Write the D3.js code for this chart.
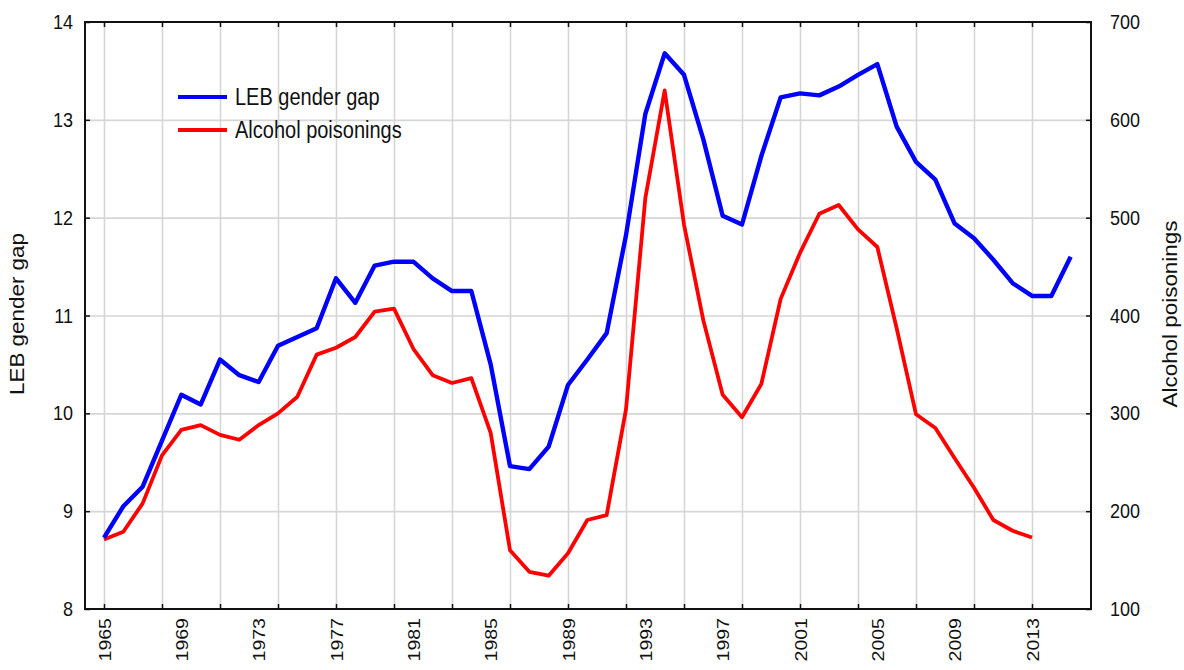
<!DOCTYPE html>
<html>
<head>
<meta charset="utf-8">
<script src="https://cdn.jsdelivr.net/npm/d3@7"></script>
<style>
  body { margin: 0; background: #fff; }
  text { font-family: "Liberation Sans", Arial, sans-serif; fill: #111; }
</style>
</head>
<body>
<div id="chart"></div>
<script>
// data
var years = [1965, 1966, 1967, 1968, 1969, 1970, 1971, 1972, 1973, 1974,
             1975, 1976, 1977, 1978, 1979, 1980, 1981, 1982, 1983, 1984,
             1985, 1986, 1987, 1988, 1989, 1990, 1991, 1992, 1993, 1994,
             1995, 1996, 1997, 1998, 1999, 2000, 2001, 2002, 2003, 2004,
             2005, 2006, 2007, 2008, 2009, 2010, 2011, 2012, 2013, 2014, 2015];

var lebGap = [8.73, 9.05, 9.25, 9.72, 10.19, 10.09, 10.55, 10.39, 10.32, 10.69,
              10.78, 10.87, 11.38, 11.13, 11.51, 11.55, 11.55, 11.38, 11.25, 11.25,
              10.5, 9.46, 9.43, 9.66, 10.29, 10.55, 10.82, 11.82, 13.06, 13.68,
              13.46, 12.8, 12.02, 11.93, 12.63, 13.23, 13.27, 13.25, 13.34, 13.46,
              13.57, 12.93, 12.57, 12.39, 11.94, 11.79, 11.57, 11.33, 11.2, 11.2, 11.6];

// ends in 2013
var alcohol = [171, 179, 208, 257, 283, 288, 278, 273, 288, 300,
               317, 360, 367, 378, 404, 407, 366, 339, 331, 336,
               280, 160, 138, 134, 157, 191, 196, 304, 520, 630,
               493, 395, 319, 296, 330, 417, 464, 504, 513, 488,
               470, 387, 299, 285, 254, 224, 191, 180, 173];

var gridYears = [1965, 1968, 1971, 1974, 1977, 1980, 1983, 1986, 1989,
                 1992, 1995, 1998, 2001, 2004, 2007, 2010, 2013];
var labelYears = [1965, 1969, 1973, 1977, 1981, 1985, 1989, 1993, 1997,
                  2001, 2005, 2009, 2013];
var leftTicks = [8, 9, 10, 11, 12, 13, 14];
var rightTicks = [100, 200, 300, 400, 500, 600, 700];

var W = 1184, H = 670;
var L = 85, R = 1091, T = 22, B = 609;

var svg = d3.select("#chart").append("svg")
    .attr("width", W)
    .attr("height", H);

var x = d3.scaleLinear().domain([1965, 2013]).range([104, 1032]);
var yL = d3.scaleLinear().domain([8, 14]).range([B, T]);
var yR = d3.scaleLinear().domain([100, 700]).range([B, T]);

// grid
svg.append("g")
    .attr("transform", "translate(0," + B + ")")
    .call(d3.axisBottom(x).tickValues(gridYears).tickSize(-(B - T)).tickFormat(""))
    .call(function(g) { g.select(".domain").remove(); })
    .selectAll("line").attr("stroke", "#d6d6d6").attr("stroke-width", 1.6);

svg.append("g")
    .attr("transform", "translate(" + L + ",0)")
    .call(d3.axisLeft(yL).tickValues(leftTicks.slice(1, -1)).tickSize(-(R - L)).tickFormat(""))
    .call(function(g) { g.select(".domain").remove(); })
    .selectAll("line").attr("stroke", "#d6d6d6").attr("stroke-width", 1.6);

// lines
var lineL = d3.line()
    .x(function(d, i) { return x(years[i]); })
    .y(function(d) { return yL(d); });
var lineR = d3.line()
    .x(function(d, i) { return x(years[i]); })
    .y(function(d) { return yR(d); });

svg.append("path")
    .datum(alcohol)
    .attr("fill", "none")
    .attr("stroke", "#ff0000")
    .attr("stroke-width", 3.8)
    .attr("stroke-linejoin", "round")
    .attr("d", lineR);

svg.append("path")
    .datum(lebGap)
    .attr("fill", "none")
    .attr("stroke", "#0000ff")
    .attr("stroke-width", 4.4)
    .attr("stroke-linejoin", "round")
    .attr("d", lineL);

// frame
svg.append("rect")
    .attr("x", L).attr("y", T)
    .attr("width", R - L).attr("height", B - T)
    .attr("fill", "none")
    .attr("stroke", "#111")
    .attr("stroke-width", 2);

// small inner ticks on all four sides
function tickStyle(g) {
  g.select(".domain").remove();
  g.selectAll("line").attr("stroke", "#111").attr("stroke-width", 1.5);
}

svg.append("g").attr("transform", "translate(0," + B + ")")
    .call(d3.axisBottom(x).tickValues(gridYears).tickSize(-5).tickFormat(""))
    .call(tickStyle);
svg.append("g").attr("transform", "translate(0," + T + ")")
    .call(d3.axisTop(x).tickValues(gridYears).tickSize(-5).tickFormat(""))
    .call(tickStyle);

var axL = svg.append("g").attr("transform", "translate(" + L + ",0)")
    .call(d3.axisLeft(yL).tickValues(leftTicks).tickSize(-5).tickPadding(12).tickFormat(d3.format("d")))
    .call(tickStyle);
axL.selectAll("text")
    .style("font-size", "18px")
    .attr("transform", "scale(1,1.15)");

var axR = svg.append("g").attr("transform", "translate(" + R + ",0)")
    .call(d3.axisRight(yR).tickValues(rightTicks).tickSize(-5).tickPadding(19).tickFormat(d3.format("d")))
    .call(tickStyle);
axR.selectAll("text")
    .style("font-size", "18px")
    .attr("transform", "scale(1,1.15)");

// rotated year labels
var axX = svg.append("g").attr("transform", "translate(0," + B + ")")
    .call(d3.axisBottom(x).tickValues(labelYears).tickSize(0).tickFormat(d3.format("d")));
axX.select(".domain").remove();
axX.selectAll("text")
    .style("font-size", "17px")
    .attr("x", 0)
    .attr("y", 0)
    .attr("dy", "0.36em")
    .attr("text-anchor", "end")
    .attr("transform", "translate(0,9) rotate(-90) scale(1.15,1)");

// axis titles
svg.append("text")
    .attr("transform", "translate(24,314) rotate(-90) scale(1.15,1)")
    .attr("text-anchor", "middle")
    .style("font-size", "19.5px")
    .text("LEB gender gap");

svg.append("text")
    .attr("transform", "translate(1177,314) rotate(-90) scale(1.15,1)")
    .attr("text-anchor", "middle")
    .style("font-size", "19.5px")
    .text("Alcohol poisonings");

// legend
var legend = [
  { name: "LEB gender gap", color: "#0000ff", y: 97 },
  { name: "Alcohol poisonings", color: "#ff0000", y: 130 }
];

var lg = svg.selectAll(".legend")
    .data(legend)
    .enter()
    .append("g")
    .attr("class", "legend")
    .attr("transform", function(d) { return "translate(0," + d.y + ")"; });

lg.append("line")
    .attr("x1", 178).attr("x2", 227)
    .attr("stroke", function(d) { return d.color; })
    .attr("stroke-width", 4);

lg.append("text")
    .attr("x", 235)
    .attr("dy", "0.36em")
    .attr("transform", "scale(1,1.15)")
    .style("font-size", "20px")
    .text(function(d) { return d.name; });
</script>
</body>
</html>
